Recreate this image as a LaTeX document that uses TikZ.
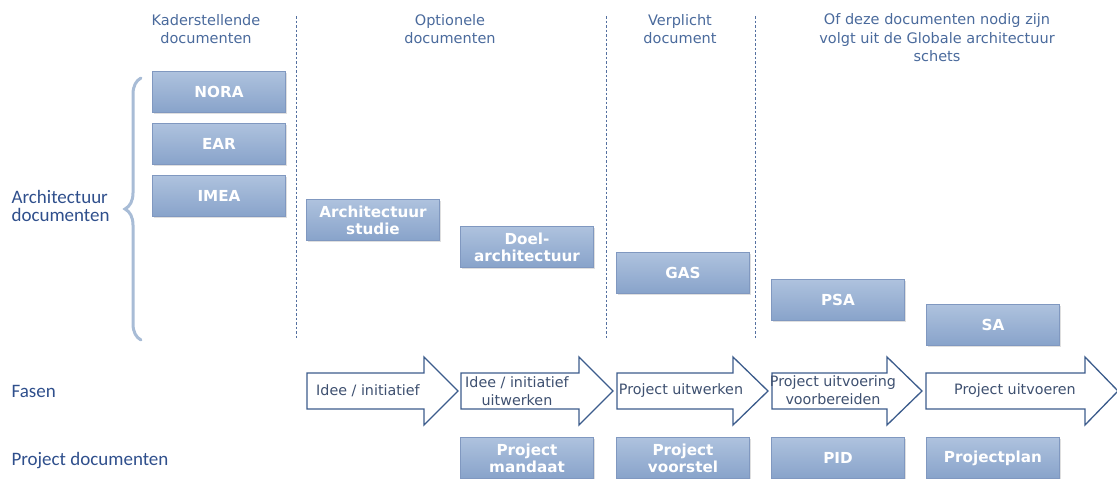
\documentclass[tikz,border=0pt]{standalone}
\usepackage{fontspec}
\setmainfont{DejaVu Sans}
\newfontfamily\sidefont{Carlito}
\usetikzlibrary{positioning,shadows,decorations.pathreplacing}
\definecolor{hdrblue}{RGB}{74,106,156}
\definecolor{lblblue}{RGB}{47,79,140}
\definecolor{boxtop}{RGB}{174,194,222}
\definecolor{boxbot}{RGB}{136,163,202}
\definecolor{boxedge}{RGB}{128,152,192}
\definecolor{arrowedge}{RGB}{60,92,140}
\definecolor{phasetxt}{RGB}{62,80,112}
\definecolor{bracegray}{RGB}{168,188,214}
\definecolor{sepblue}{RGB}{84,112,160}

\begin{document}
\begin{tikzpicture}[x=1pt, y=-1pt]
  \tikzset{
    hdr/.style={align=center, text=hdrblue, font=\fontsize{14.5}{18.5}\selectfont},
    side/.style={anchor=west, align=left, text=lblblue, font=\sidefont\fontsize{19}{18.5}\selectfont},
    docbox/.style={draw=boxedge, top color=boxtop, bottom color=boxbot, minimum width=133pt, minimum height=41pt,
      inner sep=2pt, align=center, text=white, font=\bfseries\fontsize{15.2}{17}\selectfont,
      drop shadow={opacity=0.25, shadow xshift=1.5pt, shadow yshift=-1.5pt}},
    phase/.style={draw=arrowedge, line width=1.3pt, fill=white, line join=miter},
    phasetext/.style={align=center, text=phasetxt, font=\fontsize{14.3}{17.5}\selectfont},
    sep/.style={draw=sepblue, line width=0.8pt, dash pattern=on 2.5pt off 2pt},
    bracket/.style={draw=bracegray, line width=3pt, line cap=round, decorate, decoration={brace, amplitude=16pt}}
  }
  \useasboundingbox (0,0) rectangle (1117,479);

  % Column headers
  \node[hdr] (hKader) at (206,29) {Kaderstellende\\documenten};
  \node[hdr] (hOptie) at (450,29) {Optionele\\documenten};
  \node[hdr] (hVerpl) at (680,29) {Verplicht\\document};
  \node[hdr] (hGlob)  at (937,38) {Of deze documenten nodig zijn\\volgt uit de Globale architectuur\\schets};

  % Dashed column separators
  \coordinate (s1t) at (296,16);  \coordinate (s1b) at (296,338);
  \coordinate (s2t) at (606,16);  \coordinate (s2b) at (606,338);
  \coordinate (s3t) at (755,16);  \coordinate (s3b) at (755,338);
  \draw[sep] (s1t) -- (s1b);
  \draw[sep] (s2t) -- (s2b);
  \draw[sep] (s3t) -- (s3b);

  % Row labels
  \node[side] (lArch)  at (8,206) {Architectuur\\documenten};
  \node[side] (lFasen) at (8,391) {Fasen};
  \node[side] (lProj)  at (8,461) {Project documenten};

  % Brace
  \coordinate (brB) at (141,340);
  \coordinate (brT) at (141,78);
  \draw[bracket] (brB) -- (brT);

  % Architecture documents
  \node[docbox] (nora)  at (219,92)  {NORA};
  \node[docbox] (ear)   at (219,144) {EAR};
  \node[docbox] (imea)  at (219,196) {IMEA};
  \node[docbox] (astud) at (373,220) {Architectuur\\studie};
  \node[docbox] (doel)  at (527,247) {Doel-\\architectuur};
  \node[docbox] (gas)   at (683,273) {GAS};
  \node[docbox] (psa)   at (838,300) {PSA};
  \node[docbox] (sa)    at (993,325) {SA};

  % Phases
  \draw[phase] (307,373) -- (424,373) -- (424,357) -- (458,391) -- (424,425) -- (424,409) -- (307,409) -- cycle;
  \draw[phase] (461,373) -- (579,373) -- (579,357) -- (613,391) -- (579,425) -- (579,409) -- (461,409) -- cycle;
  \draw[phase] (617,373) -- (733,373) -- (733,357) -- (768,391) -- (733,425) -- (733,409) -- (617,409) -- cycle;
  \draw[phase] (772,373) -- (887,373) -- (887,357) -- (922,391) -- (887,425) -- (887,409) -- (772,409) -- cycle;
  \draw[phase] (926,373) -- (1085,373) -- (1085,357) -- (1118,391) -- (1085,425) -- (1085,409) -- (926,409) -- cycle;
  \node[phasetext] (f1) at (368,391) {Idee / initiatief};
  \node[phasetext] (f2) at (517,391) {Idee / initiatief\\uitwerken};
  \node[phasetext] (f3) at (681,391) {Project uitwerken};
  \node[phasetext] (f4) at (833,390) {Project uitvoering\\voorbereiden};
  \node[phasetext] (f5) at (1015,391) {Project uitvoeren};

  % Project documents
  \node[docbox] (mandaat)  at (527,458) {Project\\mandaat};
  \node[docbox] (voorstel) at (683,458) {Project\\voorstel};
  \node[docbox] (pid)      at (838,458) {PID};
  \node[docbox] (pplan)    at (993,458) {Projectplan};
\end{tikzpicture}
\end{document}
